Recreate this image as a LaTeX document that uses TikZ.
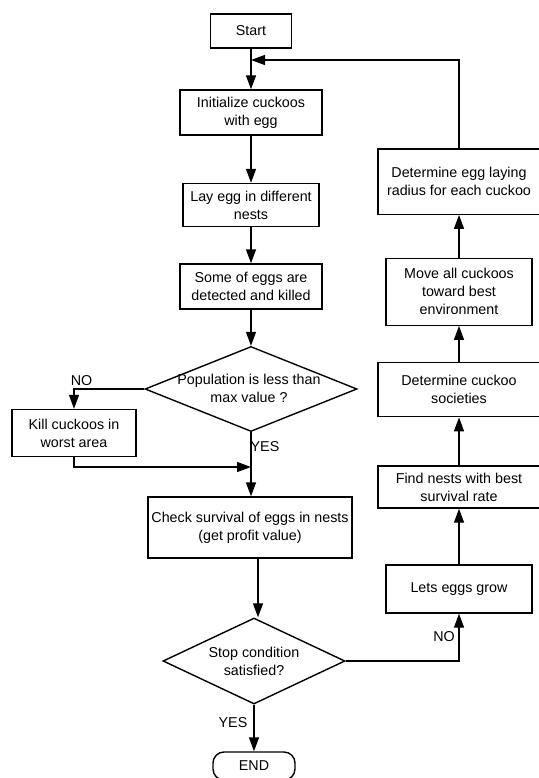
\documentclass[tikz,border=0pt]{standalone}
\usepackage{fontspec}
\setmainfont{Liberation Sans}
\usetikzlibrary{arrows.meta,shapes.geometric,calc}
\begin{document}
\begin{tikzpicture}[x=1pt,y=-1pt,
  every node/.style={font=\fontsize{14.3}{18}\selectfont},
  box/.style={draw,line width=1.4pt,align=center,inner sep=0pt,rectangle},
  dia/.style={draw,line width=1.4pt,diamond,inner sep=0pt},
  lbl/.style={inner sep=0pt,align=center},
  arr/.style={line width=1.4pt,-{Triangle[length=14pt,width=10pt]}},
  ln/.style={line width=1.4pt}]
\useasboundingbox (0,0) rectangle (538,778);
% left column
\node[box,minimum width=81pt,minimum height=34pt] (start) at (251,31) {Start};
\node[box,minimum width=142pt,minimum height=45pt] (init) at (251,112.5) {Initialize cuckoos\\with egg};
\node[box,minimum width=136pt,minimum height=43pt] (lay) at (251,205) {Lay egg in different\\nests};
\node[box,minimum width=142pt,minimum height=45pt] (some) at (251,286.5) {Some of eggs are\\detected and killed};
\node[dia,minimum width=212pt,minimum height=85pt] (d1) at (251,389) {};
\node[lbl] (d1t) at (249,388) {Population is less than\\max value ?};
\node[box,minimum width=124pt,minimum height=47pt] (kill) at (74,433) {Kill cuckoos in\\worst area};
\node[box,minimum width=204pt,minimum height=61pt] (check) at (250,527.5) {Check survival of eggs in nests\\(get profit value)};
\node[dia,minimum width=182pt,minimum height=86pt] (d2) at (254,661) {};
\node[lbl] (d2t) at (254,661) {Stop condition\\satisfied?};
\node[box,rounded corners=11pt,minimum width=82pt,minimum height=28pt] (end) at (254,766) {END};
% right column
\node[box,minimum width=162pt,minimum height=65pt] (rad) at (459,181.7) {Determine egg laying\\radius for each cuckoo};
\node[box,minimum width=146pt,minimum height=67pt] (move) at (459,291.7) {Move all cuckoos\\toward best\\environment};
\node[box,minimum width=162pt,minimum height=54pt] (soc) at (459,389.7) {Determine cuckoo\\societies};
\node[box,minimum width=162pt,minimum height=42pt] (find) at (459,487) {Find nests with best\\survival rate};
\node[box,minimum width=146pt,minimum height=48pt] (grow) at (459,589) {Lets eggs grow};
% labels
\node[lbl] (no1) at (81.5,380.5) {NO};
\node[lbl] (yes1) at (265,446.5) {YES};
\node[lbl] (no2) at (444,637) {NO};
\node[lbl] (yes2) at (233,723) {YES};
% connectors
\coordinate (m1) at (251,60);
\coordinate (m2) at (251,467);
\draw[ln] (start.south) -- (m1);
\draw[arr] (m1) -- (init.north);
\draw[arr] (rad.north) |- (m1);
\draw[arr] (init.south) -- (lay.north);
\draw[arr] (lay.south) -- (some.north);
\draw[arr] (some.south) -- (d1.north);
\draw[arr] (d1.west) -| (kill.north);
\draw[arr] (kill.south) |- (m2);
\draw[arr] (d1.south) -- (d1.south |- check.north);
\draw[arr] ([xshift=8pt]check.south) -- ([xshift=8pt]check.south |- d2.north);
\draw[arr] (d2.south) -- (end.north);
\draw[arr] (d2.east) -| (grow.south);
\draw[arr] (grow.north) -- (find.south);
\draw[arr] (find.north) -- (soc.south);
\draw[arr] (soc.north) -- (move.south);
\draw[arr] (move.north) -- (rad.south);
\end{tikzpicture}
\end{document}
